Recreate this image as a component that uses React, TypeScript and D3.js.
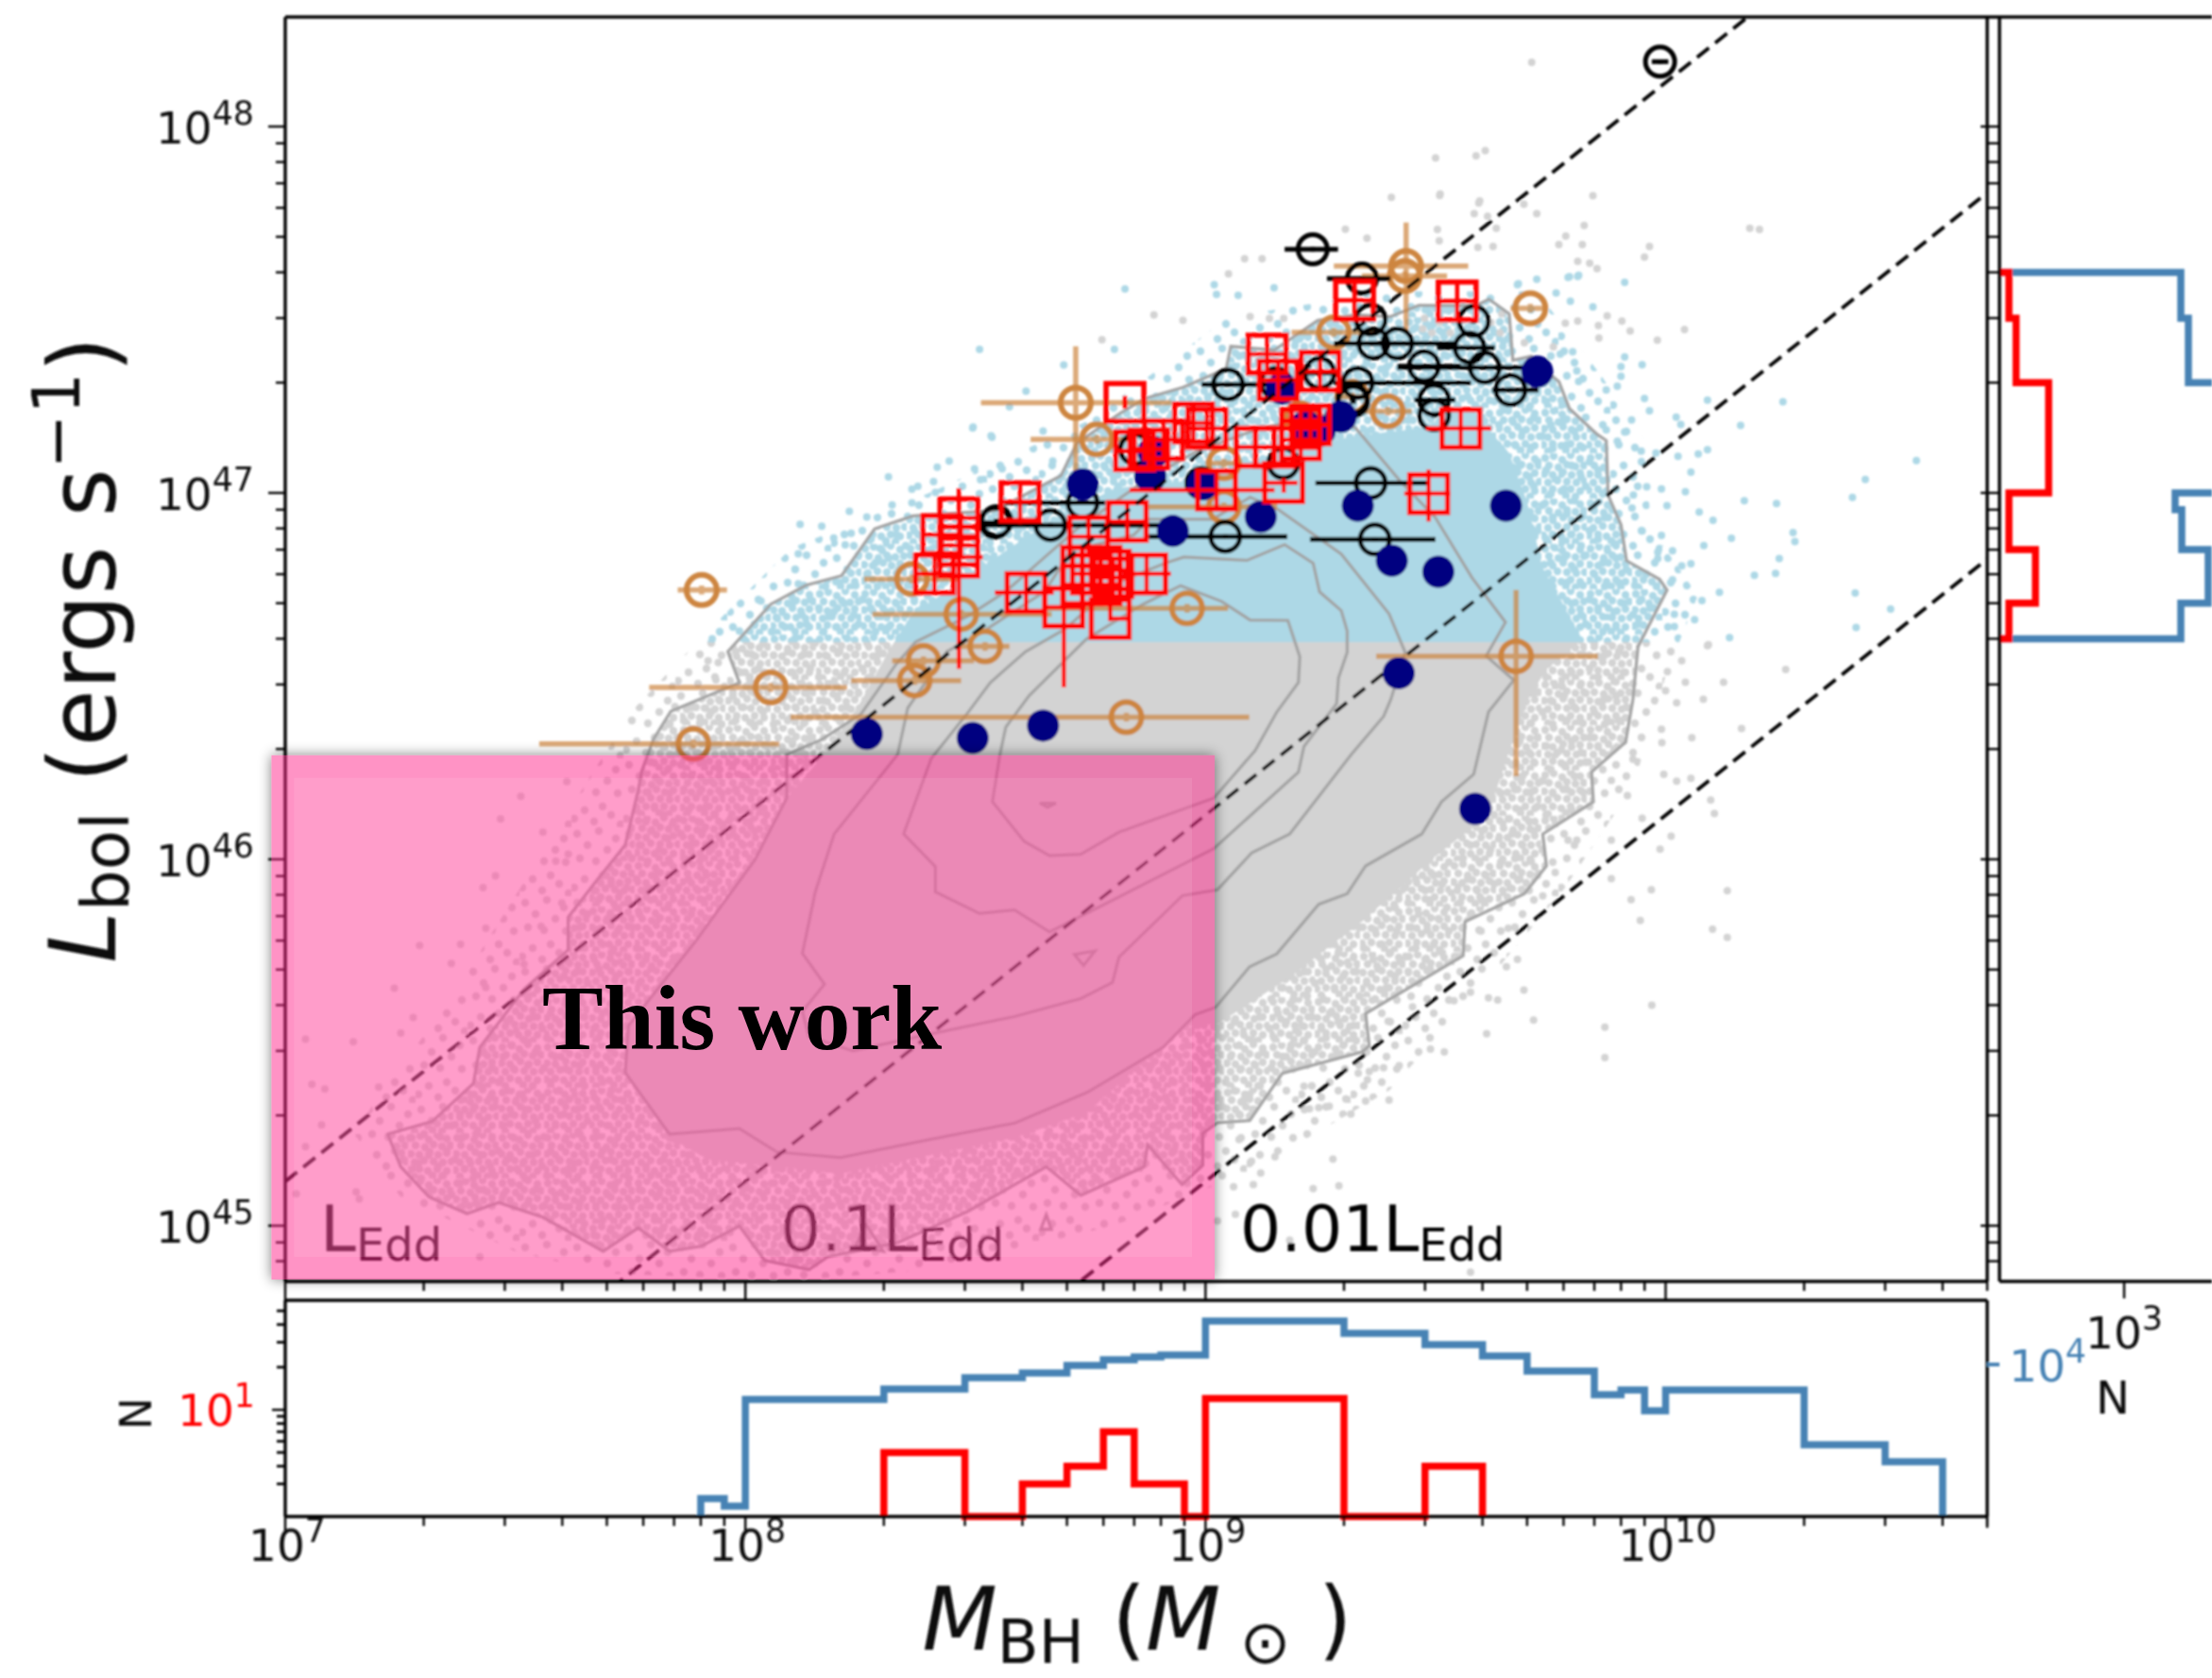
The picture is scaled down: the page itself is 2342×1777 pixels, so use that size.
import React from "react";
import * as d3 from "d3";

type P = number[];

// ---------- Bin edges and histogram counts ----------
const massEdgesBlue = [8e7, 9e7, 1e8, 2e8, 3e8, 4e8, 5e8, 6e8, 7e8, 8e8, 1e9, 2e9, 3e9, 4e9, 5e9, 7e9, 8e9, 9e9, 1e10, 2e10, 3e10, 4e10];
const massCountsBlue = [1130, 1000, 5670, 6710, 8070, 8710, 9850, 10800, 11300, 11660, 20250, 16600, 13800, 11480, 8980, 6120, 6610, 4710, 6610, 2710, 2060];
const massEdgesRed = [2e8, 3e8, 4e8, 5e8, 6e8, 7e8, 9e8, 1e9, 2e9, 3e9, 4e9];
const massCountsRed = [5, 1, 3, 4, 7, 3, 1, 12, 1, 4];
const lumEdgesBlue = [4e47, 3e47, 2e47, 1e47, 9e46, 7e46, 5e46, 4e46];
const lumCountsBlue = [2512, 2840, 6020, 2290, 2550, 3920, 2512];
const lumEdgesRed = [4e47, 3e47, 2e47, 1e47, 7e46, 5e46, 4e46];
const lumCountsRed = [2, 3, 19, 2, 9, 2];

// ---------- Sample points, [log M, log L, ...] ----------
const navyPoints: P[] = [[8.494,46.331],[8.647,46.365],[9.586,46.138],[9.506,46.785],[9.405,46.815],[9.653,46.965],[9.331,46.965],[8.929,46.896],[9.12,46.935],[8.994,47.023],[8.733,47.023],[8.88,47.046],[8.887,47.112],[9.721,47.331],[9.294,47.208],[9.248,47.169],[9.166,47.285],[9.218,47.181]];
const navyOnLine: P[] = [[8.264,46.342],[9.42,46.508]];

// [log M, log L, xlo, xhi, ylo, yhi]
const tanPoints: P[] = [
  [7.905,46.735,7.853,7.96],[7.887,46.315,7.552,8.074],[8.055,46.469,7.791,8.221],[8.368,46.488,8.23,8.469],
  [8.387,46.542,8.319,8.497],[8.362,46.765,8.258,8.466],[8.469,46.669,8.276,8.666],[8.521,46.581,8.466,8.574],
  [8.828,46.388,8.098,9.095],[8.96,46.685,8.65,9.049],[8.718,47.246,8.512,8.926,47.015,47.4],[8.764,47.146,8.62,8.834],
  [9.04,47.081,9.0,9.08],[9.04,46.962,8.877,9.156],[9.675,46.554,9.371,9.853,46.227,46.735],[9.706,47.504,9.663,9.739],
  [9.396,47.223,9.34,9.448],[9.436,47.619,9.279,9.571,47.438,47.738],[9.433,47.592,9.34,9.525],[9.279,47.438,9.187,9.371],
  [9.319,47.262,9.28,9.36],[9.206,47.204,9.17,9.24],
];
const blackPoints: P[] = [
  [9.988,48.177,9.97,10.006],[9.233,47.665,9.172,9.288],[9.34,47.585,9.264,9.402],[9.359,47.473],[9.583,47.469],
  [9.574,47.396,9.503,9.629],[9.475,47.346,9.417,9.555],[9.365,47.408,9.279,9.448],[9.417,47.408,9.355,9.54],
  [9.607,47.342,9.417,9.693],[9.663,47.281,9.623,9.724],[9.497,47.254,9.454,9.543],[9.497,47.212],[9.319,47.258],[9.321,47.25],
  [9.049,47.296,8.991,9.141],[9.331,47.3,9.279,9.577],[9.248,47.327,9.2,9.29],[9.153,47.3],[9.359,47.027,9.239,9.482],
  [9.368,46.873,9.227,9.5],[9.043,46.881,8.877,9.178],[9.169,47.081],[8.847,47.119],[8.991,47.027],
  [8.733,46.973,8.564,8.782],[8.663,46.912,8.521,8.899],[8.543,46.919,8.51,8.59],[8.546,46.923],
];
const redPoints: P[] = [
  [9.324,47.526],[9.547,47.524],[9.134,47.379],[9.158,47.308],[9.249,47.332],[8.825,47.247,8.82,8.83,47.23,47.265],
  [9.555,47.176,9.479,9.621],[8.974,47.191],[9.003,47.176],[8.909,47.145],[8.846,47.115],[8.877,47.12],[9.207,47.176],
  [9.228,47.186],[9.108,47.125],[9.15,47.125],[9.207,47.145],[9.485,46.998,9.432,9.532,46.922,47.064],[8.597,46.976,8.55,8.64,46.916,47.033],
  [8.464,46.932,8.42,8.51,46.52,47.013],[8.427,46.886],[8.464,46.856],[8.464,46.825,8.416,8.516],[8.411,46.779],
  [8.61,46.728,8.542,8.67],[8.692,46.688,8.65,8.74,46.469,46.81],[8.746,46.881],[8.83,46.922],[8.731,46.8],[8.752,46.779],
  [8.773,46.8],[8.793,46.789],[8.731,46.749],[8.773,46.749],[8.799,46.769],[8.872,46.779,8.82,8.925],[8.793,46.657,8.79,8.83,46.65,46.7],
  [9.024,47.008,8.835,9.15],[9.17,47.028,9.13,9.2,47.0,47.04],
];

// ---------- Sparse parent-sample points ----------
const blueSparse: P[] = [[9.911,47.575],[9.791,47.59],[9.811,47.594],[9.72,47.583],[9.68,47.571],[9.762,47.546],[9.793,47.523],[9.842,47.508],[9.771,47.379],[9.798,47.385],[9.911,47.371],[9.903,47.345],[9.949,47.35],[9.903,47.318],[9.807,47.333],[9.811,47.304],[9.871,47.281],[9.895,47.291],[9.954,47.258],[10.091,47.253],[10.255,47.249],[9.965,47.224],[10.023,47.207],[10.033,47.187],[10.163,47.184],[9.871,47.172],[9.911,47.166],[9.926,47.199],[9.895,47.141],[9.947,47.114],[9.979,47.109],[10.027,47.1],[10.071,47.106],[10.091,47.118],[10.545,47.088],[10.434,47.037],[10.406,46.988],[10.055,47.057],[9.959,47.017],[9.991,47.011],[10.043,47.003],[9.93,46.994],[9.927,46.959],[10.003,46.965],[10.073,46.948],[10.103,46.925],[10.171,46.979],[10.241,46.971],[10.143,46.876],[10.277,46.892],[10.281,46.867],[9.949,46.896],[9.991,46.884],[10.083,46.856],[10.015,46.842],[9.983,46.838],[9.983,46.821],[10.247,46.821],[10.035,46.801],[10.055,46.807],[10.193,46.775],[10.239,46.78],[10.015,46.763],[10.117,46.729],[10.412,46.727],[10.079,46.706],[10.489,46.683],[10.063,46.654],[10.019,46.669],[10.019,46.635],[10.414,46.633],[10.139,46.605],
  [7.928,46.602],[8.034,46.705],[7.987,46.623],[8.119,46.914],[8.166,46.909],[8.115,46.834],[8.108,46.791],[8.115,46.752],[8.192,46.877],[8.23,46.89],[8.217,46.858],[8.226,46.95],[8.264,46.934],[8.311,47.044],[8.319,46.967],[8.362,47.01],[8.375,47.018],[8.409,47.031],[8.417,47.07],[8.443,47.087],[8.362,46.973],[8.413,47.001],[8.498,47.066],[8.558,47.066],[8.511,47.036],[8.494,47.177],[8.536,47.152],[8.647,47.169],[8.668,47.087],
  [8.825,47.557],[9.019,47.568],[9.024,47.542],[9.071,47.539],[9.149,47.56],[8.509,47.392],[8.802,47.392],[8.692,47.349],[8.61,47.278],[8.574,47.235],[8.495,47.18],[8.534,47.156],[9.678,47.568],[9.788,47.588],[9.809,47.591]];
const graySparse: P[] = [[9.709,48.175],[9.5,47.914],[9.588,47.92],[9.608,47.934],[9.51,47.816],[9.596,47.797],[9.842,47.811],[9.692,47.788],[9.584,47.762],[9.613,47.755],[9.72,47.762],[9.823,47.73],[10.183,47.722],[10.204,47.719],[9.504,47.719],[9.632,47.722],[9.783,47.701],[9.508,47.688],[9.768,47.678],[9.819,47.678],[9.592,47.67],[9.625,47.673],[9.965,47.673],[9.954,47.644],[9.809,47.632],[9.835,47.627],[9.851,47.612],[9.873,47.483],[9.782,47.463],[9.809,47.469],[9.854,47.457],[9.905,47.469],[9.923,47.442],[10.041,47.446],[9.982,47.417],[9.855,47.423],[9.756,47.399],[9.693,47.41],[10.091,46.583],[10.261,46.518],
  [9.404,47.807],[9.509,47.812],[9.351,47.695],[9.304,47.72],[9.594,47.791],[9.085,47.639],[9.123,47.639],[9.05,47.598],[8.888,47.486],[8.951,47.471],[8.775,47.418],[9.097,47.481],[9.139,47.476],[9.17,47.476],
  [10.093,46.586],[10.035,46.542],[10.004,46.512],[10.126,46.483],[10.0,46.46],[10.043,46.483],[10.082,46.437],[10.024,46.427],[9.991,46.355],[10.165,46.357],[10.057,46.332],[9.992,46.318],[9.929,46.273],[9.996,46.232],[10.024,46.213],[10.055,46.221],[9.882,46.215],[9.917,46.174],[10.098,46.162],[10.106,46.125],[9.949,46.112],[10.012,46.063],[9.882,46.052],[9.988,46.028],[9.788,46.052],[9.807,46.052],[9.76,45.964],[9.882,45.947],[9.969,45.917],[10.134,45.914],[9.925,45.89],[9.945,45.833],[10.102,45.809],[10.134,45.787],[9.733,45.9],[9.658,45.812],[9.599,45.804],[9.654,45.707],[9.678,45.727],[9.576,45.637],[9.692,45.643],[9.615,45.622],[9.635,45.616],[9.54,45.614],[9.97,45.602],[9.45,45.597],[9.713,45.561],[9.397,45.558],[9.868,45.542],[9.611,45.524],[9.489,45.482],[9.519,45.474],[9.868,45.459],[9.421,45.437],[9.387,45.431],[9.356,45.421],[9.332,45.416],[9.352,45.398],[9.399,45.343],[9.305,45.346],[9.348,45.34],[9.316,45.305],[9.214,45.381],[9.269,45.326],[9.246,45.322],[9.226,45.319],[9.073,45.235],[9.151,45.188],[9.277,45.182],[9.1,45.176],[9.12,45.144],[9.061,45.106],[9.104,45.112],[9.234,45.101],[9.29,45.109],[9.065,45.031],[9.576,44.873],[9.183,44.961],[9.026,45.013],
  [7.612,46.212],[7.512,46.172],[7.468,46.11],[7.56,46.074],[7.615,46.014],[7.588,45.995],[7.457,45.955],[7.43,45.923],[7.601,45.881],[7.556,45.817],[7.436,45.812],[7.292,45.765],[7.381,45.768],[7.361,45.716],[7.519,45.714],[7.237,45.648],[7.436,45.65],[7.278,45.568],[7.251,45.526],[7.044,45.509],[7.148,45.502],[7.058,45.386],[7.086,45.373],[7.203,45.378],[7.079,45.275],[7.044,45.216],[7.154,45.092],[7.161,45.073],[7.024,45.087],[7.423,44.915],
  [7.919,46.542],[7.941,46.537],[7.936,46.49],[8.009,46.494],[7.847,46.417],[7.911,46.413],
  [9.476,47.477],[9.508,47.465],[9.532,47.437],[9.62,47.465],[9.644,47.489],[9.64,47.437],[9.492,47.437],[9.472,47.448]];

// ---------- Density contours (log M, log L) ----------
const contourOuter: P[] = [[7.775,46.241],[7.767,46.187],[7.739,46.039],[7.67,45.931],[7.615,45.842],[7.615,45.753],[7.519,45.645],[7.423,45.487],[7.409,45.388],[7.32,45.285],[7.223,45.25],[7.251,45.161],[7.313,45.078],[7.395,45.033],[7.464,45.063],[7.56,45.023],[7.691,44.93],[7.767,44.994],[7.835,44.93],[7.904,44.944],[7.987,44.999],[8.042,44.905],[8.138,44.88],[8.179,44.915],[8.331,44.954],[8.482,45.038],[8.654,45.161],[8.729,45.083],[8.867,45.161],[8.874,45.221],[8.949,45.112],[8.994,45.165],[8.994,45.252],[9.026,45.281],[9.096,45.287],[9.167,45.416],[9.34,45.474],[9.356,45.491],[9.348,45.579],[9.56,45.737],[9.564,45.83],[9.693,45.906],[9.741,45.982],[9.733,46.069],[9.843,46.157],[9.839,46.238],[9.913,46.32],[9.929,46.437],[9.94,46.58],[10.003,46.735],[9.987,46.764],[9.915,46.815],[9.903,46.913],[9.875,46.994],[9.871,47.143],[9.851,47.16],[9.791,47.23],[9.768,47.304],[9.756,47.316],[9.708,47.373],[9.668,47.362],[9.66,47.489],[9.616,47.529],[9.588,47.511],[9.464,47.512],[9.401,47.481],[9.327,47.486],[9.244,47.471],[9.15,47.39],[9.055,47.4],[9.045,47.339],[8.951,47.288],[8.867,47.257],[8.814,47.217],[8.72,47.135],[8.686,47.047],[8.542,46.952],[8.364,46.937],[8.281,46.902],[8.209,46.774],[8.132,46.748],[8.055,46.696],[7.962,46.567],[7.987,46.482],[7.838,46.404],[7.8,46.327]];
const contourTwo: P[] = [[7.835,45.25],[7.739,45.418],[7.746,45.546],[7.89,45.773],[8.021,45.999],[8.09,46.167],[8.09,46.286],[8.166,46.327],[8.251,46.396],[8.328,46.533],[8.37,46.593],[8.481,46.662],[8.566,46.731],[8.651,46.825],[8.719,46.9],[8.856,47.023],[8.982,47.115],[9.118,47.176],[9.275,47.217],[9.327,47.176],[9.422,47.034],[9.5,46.932],[9.579,46.769],[9.652,46.647],[9.61,46.555],[9.67,46.489],[9.615,46.402],[9.583,46.232],[9.513,46.157],[9.47,46.069],[9.348,45.982],[9.308,45.906],[9.246,45.877],[9.155,45.742],[9.096,45.707],[9.022,45.596],[8.977,45.576],[8.908,45.487],[8.743,45.364],[8.585,45.28],[8.399,45.235],[8.207,45.186],[8.069,45.201],[7.987,45.265]];
const contourThree: P[] = [[8.124,45.585],[8.172,45.659],[8.124,45.743],[8.152,45.911],[8.193,46.069],[8.331,46.286],[8.353,46.413],[8.438,46.567],[8.524,46.628],[8.651,46.731],[8.707,46.842],[8.844,46.885],[8.878,46.928],[9.015,46.928],[9.097,46.988],[9.159,46.954],[9.295,46.833],[9.399,46.67],[9.434,46.565],[9.403,46.437],[9.387,46.39],[9.316,46.285],[9.183,46.069],[9.1,46.017],[9.026,45.917],[8.95,45.901],[8.812,45.733],[8.798,45.664],[8.729,45.62],[8.585,45.571],[8.413,45.526],[8.234,45.477],[8.138,45.516]];
const contourFour: P[] = [[8.344,46.069],[8.413,45.98],[8.413,45.911],[8.509,45.852],[8.585,45.862],[8.661,45.802],[8.771,45.871],[9.018,46.029],[9.202,46.238],[9.214,46.308],[9.285,46.425],[9.289,46.495],[9.308,46.565],[9.308,46.623],[9.295,46.679],[9.248,46.73],[9.234,46.808],[9.172,46.859],[9.09,46.816],[8.953,46.825],[8.912,46.808],[8.809,46.756],[8.694,46.628],[8.609,46.567],[8.532,46.482],[8.481,46.396],[8.404,46.275]];
const contourFive: P[] = [[8.537,46.157],[8.606,46.049],[8.661,46.01],[8.729,46.014],[8.812,46.074],[9.018,46.167],[9.108,46.297],[9.155,46.402],[9.202,46.483],[9.205,46.553],[9.179,46.652],[9.097,46.653],[9.035,46.704],[8.946,46.747],[8.864,46.696],[8.741,46.601],[8.617,46.447],[8.566,46.361],[8.553,46.284]];
const contourIslands: P[][] = [
  [[8.715,45.74],[8.76,45.75],[8.735,45.71]],
  [[8.64,46.153],[8.675,46.153],[8.657,46.142]],
  [[8.654,45.03],[8.642,44.99],[8.665,44.99]],
  [[8.262,45.004],[8.3,44.93],[8.24,44.945]],
];
const denseCore: P[] = [[7.835,45.24],[7.739,45.418],[7.746,45.546],[7.89,45.773],[8.021,45.999],[8.09,46.167],[8.175,46.293],[8.243,46.413],[8.311,46.567],[8.362,46.67],[8.447,46.739],[8.566,46.842],[8.668,46.928],[8.804,47.013],[8.961,47.033],[9.17,47.115],[9.327,47.156],[9.464,47.176],[9.58,47.235],[9.604,47.189],[9.66,47.109],[9.7,46.971],[9.732,46.798],[9.819,46.6],[9.741,46.518],[9.701,46.437],[9.654,46.273],[9.615,46.122],[9.497,46.005],[9.34,45.83],[9.183,45.678],[9.026,45.55],[8.955,45.546],[8.743,45.309],[8.585,45.24],[8.207,45.142],[7.918,45.181]];
const speckleFringe: P[] = [[7.15,45.25],[7.25,45.08],[7.5,44.93],[7.7,44.87],[8.1,44.85],[8.4,44.88],[8.8,45.0],[9.1,45.15],[9.4,45.37],[9.62,45.68],[9.78,45.92],[9.93,46.2],[10.0,46.5],[10.07,46.72],[9.97,46.9],[9.95,47.15],[9.86,47.32],[9.72,47.55],[9.4,47.55],[9.05,47.48],[8.75,47.2],[8.4,47.0],[8.1,46.85],[7.9,46.6],[7.75,46.4],[7.55,46.0],[7.35,45.6],[7.2,45.35]];

const speckleTileA = [[4,5],[13,3],[22,7],[31,2],[41,6],[8,13],[18,15],[27,12],[36,14],[45,13],[3,22],[12,23],[23,20],[32,23],[41,21],[7,31],[17,29],[27,30],[37,31],[46,30],[2,39],[12,38],[21,40],[31,38],[41,40],[7,46],[26,45],[36,46]];
const speckleTileB = [[6,7],[29,4],[47,12],[17,19],[38,24],[9,33],[26,36],[49,37],[33,51],[14,55],[42,60],[3,64],[24,67],[52,70]];

const eddingtonRatios = [1, 0.1, 0.01];
const lumLogCut = 46.593;
const xDecades = [7, 8, 9, 10];
const yDecades = [45, 46, 47, 48];
const redYTicks = [3, 4, 5, 6, 7, 8, 9, 20, 30, 40, 50];
const C_BLUE = "#add8e6", C_GRAY = "#d3d3d3", C_STEEL = "#4682b4", C_CONTOUR = "#a3a3a3";
const FONT = "'DejaVu Sans', sans-serif";

// ---------- Scales ----------
const xS = d3.scaleLog().domain([1e7, 1e10]).range([302, 1763.5]);
const yS = d3.scaleLog().domain([1e45, 1e48]).range([1298, 134]);
const yRed = d3.scaleLog().domain([10, 100]).range([1493, 1343]);
const yBlue = d3.scaleLog().domain([1e4, 1e5]).range([1445, 1295]);
const xRed = d3.scaleLog().domain([2, 20]).range([2127, 2170]);
const xBlue = d3.scaleLog().domain([1e3, 1e4]).range([2249, 2399]);

const LEFT = 302, RIGHT = 2104, TOP = 18, MAIN_BOTTOM = 1357, SIDE_LEFT = 2117, PANEL_TOP = 1377, PANEL_BOTTOM = 1606;
const px = (p: P) => [xS(10 ** p[0]), yS(10 ** p[1])];
const closed = d3.line().curve(d3.curveLinearClosed);
const open = d3.line();
const polygon = (pts: P[]) => closed(pts.map(px) as any) as string;

function massHist(edges: number[], counts: number[], y: (v: number) => number) {
  const pts: [number, number][] = [[xS(edges[0]), PANEL_BOTTOM]];
  counts.forEach((c, i) => {
    const yy = Math.min(y(c), PANEL_BOTTOM);
    pts.push([xS(edges[i]), yy], [xS(edges[i + 1]), yy]);
  });
  pts.push([xS(edges[edges.length - 1]), PANEL_BOTTOM]);
  return open(pts) as string;
}
function lumHist(edges: number[], counts: number[], x: (v: number) => number) {
  const pts: [number, number][] = [[SIDE_LEFT, yS(edges[0])]];
  counts.forEach((c, i) => {
    pts.push([x(c), yS(edges[i])], [x(c), yS(edges[i + 1])]);
  });
  pts.push([SIDE_LEFT, yS(edges[edges.length - 1])]);
  return open(pts) as string;
}

function Pow({ x, y, exp, anchor = "middle", size = 47, fill = "#111" }: any) {
  return (
    <text x={x} y={y} textAnchor={anchor} fontFamily={FONT} fontSize={size} fill={fill}>
      10<tspan dy={-size * 0.43} fontSize={size * 0.74}>{exp}</tspan>
    </text>
  );
}
function EddLabel({ x, label }: any) {
  return (
    <text x={x} y={1325} fontFamily={FONT} fontSize={68} fill="#000">
      {label}<tspan dy={10} fontSize={48}>Edd</tspan>
    </text>
  );
}
const Dots = ({ pts, fill }: any) => <g fill={fill}>{pts.map((p: P, i: number) => { const [x, y] = px(p); return <circle key={i} cx={x} cy={y} r={4} />; })}</g>;
function ErrBars({ p, dx, dy, color, width, opacity = 1 }: any) {
  const xlo = p[2] ?? p[0] - dx, xhi = p[3] ?? p[0] + dx, ylo = p[4] ?? p[1] - dy, yhi = p[5] ?? p[1] + dy;
  return (
    <g stroke={color} strokeWidth={width} opacity={opacity}>
      <line x1={xS(10 ** xlo)} x2={xS(10 ** xhi)} y1={yS(10 ** p[1])} y2={yS(10 ** p[1])} />
      <line x1={xS(10 ** p[0])} x2={xS(10 ** p[0])} y1={yS(10 ** ylo)} y2={yS(10 ** yhi)} />
    </g>
  );
}
const Navy = ({ pts }: any) => <g fill="#000080">{pts.map((p: P, i: number) => { const [x, y] = px(p); return <circle key={i} cx={x} cy={y} r={17} />; })}</g>;
const Tile = ({ id, w, h, tile, fill }: any) => (
  <pattern id={id} width={w} height={h} patternUnits="userSpaceOnUse">
    {tile.map((t: number[], i: number) => <circle key={i} cx={t[0]} cy={t[1]} r={4.2} fill={fill} />)}
  </pattern>
);

export default function App() {
  const cutY = yS(10 ** lumLogCut);
  const pink = { x: xS(10 ** 6.97), x2: xS(10 ** 9.02), y: yS(10 ** 46.284), y2: yS(10 ** 44.853) };
  const minorX: number[] = [];
  xDecades.forEach((d) => [2, 3, 4, 5, 6, 7, 8, 9].forEach((k) => { if (k * 10 ** d <= 5e10) minorX.push(k * 10 ** d); }));
  const minorY: number[] = [];
  [44, 45, 46, 47, 48].forEach((d) => [2, 3, 4, 5, 6, 7, 8, 9].forEach((k) => { const v = k * 10 ** d; if (yS(v) < MAIN_BOTTOM && yS(v) > TOP) minorY.push(v); }));
  const contours = [contourOuter, contourTwo, contourThree, contourFour, contourFive, ...contourIslands];
  const zone = (fringe: string, a: string, b: string, solid: string) => (
    <>
      <path d={polygon(speckleFringe)} fill={fringe} />
      <path d={polygon(contourOuter)} fill={a} />
      <path d={polygon(contourOuter)} fill={b} />
      <path d={polygon(denseCore)} fill={solid} />
    </>
  );
  return (
    <svg width={2342} height={1777} viewBox="0 0 2342 1777" style={{ position: "absolute", left: 0, top: 0, background: "#fff" }}>
      <defs>
        <filter id="soft" x="-2%" y="-2%" width="104%" height="104%"><feGaussianBlur stdDeviation="1" /></filter>
        <filter id="shadow" x="-10%" y="-10%" width="120%" height="120%"><feGaussianBlur stdDeviation="7" /></filter>
        <Tile id="spGrayA" w={48} h={48} tile={speckleTileA} fill={C_GRAY} />
        <Tile id="spGrayB" w={55} h={73} tile={speckleTileB} fill={C_GRAY} />
        <Tile id="spBlueA" w={48} h={48} tile={speckleTileA} fill={C_BLUE} />
        <Tile id="spBlueB" w={55} h={73} tile={speckleTileB} fill={C_BLUE} />
        <clipPath id="mainClip"><rect x={LEFT} y={TOP} width={RIGHT - LEFT} height={MAIN_BOTTOM - TOP} /></clipPath>
        <clipPath id="upper"><rect x={LEFT} y={TOP} width={RIGHT - LEFT} height={cutY - TOP} /></clipPath>
        <clipPath id="lower"><rect x={LEFT} y={cutY} width={RIGHT - LEFT} height={MAIN_BOTTOM - cutY} /></clipPath>
        <clipPath id="panelClip"><rect x={LEFT} y={PANEL_TOP} width={RIGHT - LEFT} height={PANEL_BOTTOM - PANEL_TOP + 4} /></clipPath>
        <clipPath id="sideClip"><rect x={SIDE_LEFT} y={TOP} width={2342 - SIDE_LEFT} height={MAIN_BOTTOM - TOP} /></clipPath>
        <clipPath id="pinkOutside"><path clipRule="evenodd" d={`M0 0H2342V1777H0Z M${pink.x} ${pink.y}H${pink.x2}V${pink.y2}H${pink.x}Z`} /></clipPath>
      </defs>

      <g filter="url(#soft)">
        <g clipPath="url(#mainClip)">
          <g clipPath="url(#lower)">{zone("url(#spGrayB)", "url(#spGrayA)", "url(#spGrayB)", C_GRAY)}</g>
          <g clipPath="url(#upper)">{zone("url(#spBlueB)", "url(#spBlueA)", "url(#spBlueB)", C_BLUE)}</g>
          <Dots pts={graySparse} fill={C_GRAY} />
          <Dots pts={blueSparse} fill={C_BLUE} />
          <g fill="none" stroke={C_CONTOUR} strokeWidth={3.2}>
            {contours.map((c, i) => <path key={i} d={polygon(c)} />)}
          </g>
          {tanPoints.map((p, i) => <ErrBars key={i} p={p} dx={0.01} dy={0.012} color="#cd853f" width={5.5} opacity={0.7} />)}
          <g fill="none" stroke="#cd853f" strokeWidth={6}>
            {tanPoints.map((p, i) => { const [x, y] = px(p); return <circle key={i} cx={x} cy={y} r={16} />; })}
          </g>
          {blackPoints.map((p, i) => <ErrBars key={i} p={p} dx={0.006} dy={0.006} color="#000" width={5} />)}
          <g fill="none" stroke="#000" strokeWidth={5}>
            {blackPoints.map((p, i) => { const [x, y] = px(p); return <circle key={i} cx={x} cy={y} r={15.5} />; })}
          </g>
          <Navy pts={navyPoints} />
          {redPoints.map((p, i) => <ErrBars key={i} p={p} dx={0.04} dy={0.05} color="#f00" width={4.5} />)}
          <g fill="none" stroke="#f00" strokeWidth={5.5}>
            {redPoints.map((p, i) => { const [x, y] = px(p); return <rect key={i} x={x - 20} y={y - 20} width={40} height={40} />; })}
          </g>
          {eddingtonRatios.map((r) => (
            <line key={r} x1={xS(1e7)} x2={xS(5e10)} y1={yS(1.32e38 * 1e7 * r)} y2={yS(1.32e38 * 5e10 * r)} stroke="#000" strokeWidth={3.8} strokeDasharray="16 8.5" />
          ))}
          <Navy pts={navyOnLine} />
          <EddLabel x={339} label="L" />
          <EddLabel x={826} label="0.1L" />
          <EddLabel x={1313} label="0.01L" />
        </g>

        {/* side histogram */}
        <g clipPath="url(#sideClip)" fill="none" strokeWidth={7.5}>
          <path d={lumHist(lumEdgesBlue, lumCountsBlue, xBlue)} stroke={C_STEEL} />
          <path d={lumHist(lumEdgesRed, lumCountsRed, xRed)} stroke="#f00" />
        </g>
        {/* bottom histogram */}
        <g clipPath="url(#panelClip)" fill="none" strokeWidth={7.5}>
          <path d={massHist(massEdgesBlue, massCountsBlue, yBlue)} stroke={C_STEEL} />
          <path d={massHist(massEdgesRed, massCountsRed, (v) => (v <= 1 ? PANEL_BOTTOM : yRed(v)))} stroke="#f00" />
        </g>

        {/* frames */}
        <g stroke="#000" strokeWidth={3.4}>
          <line x1={LEFT} x2={2342} y1={TOP} y2={TOP} />
          <line x1={LEFT} x2={RIGHT} y1={MAIN_BOTTOM} y2={MAIN_BOTTOM} />
          <line x1={SIDE_LEFT} x2={2342} y1={MAIN_BOTTOM} y2={MAIN_BOTTOM} />
          <line x1={LEFT} x2={LEFT} y1={TOP} y2={MAIN_BOTTOM} />
          <line x1={RIGHT} x2={RIGHT} y1={TOP} y2={MAIN_BOTTOM} />
          <line x1={SIDE_LEFT} x2={SIDE_LEFT} y1={TOP} y2={MAIN_BOTTOM} />
          <line x1={LEFT} x2={RIGHT} y1={PANEL_TOP} y2={PANEL_TOP} />
          <line x1={LEFT} x2={RIGHT} y1={PANEL_BOTTOM} y2={PANEL_BOTTOM} />
          <line x1={LEFT} x2={LEFT} y1={PANEL_TOP} y2={PANEL_BOTTOM} />
          <line x1={RIGHT} x2={RIGHT} y1={PANEL_TOP} y2={PANEL_BOTTOM} />
        </g>
        {/* ticks */}
        <g stroke="#000" strokeWidth={2.4}>
          {yDecades.map((d) => {
            const y = yS(10 ** d);
            return (
              <g key={d}>
                <line x1={LEFT - 18} x2={LEFT} y1={y} y2={y} />
                <line x1={SIDE_LEFT - 20} x2={SIDE_LEFT} y1={y} y2={y} />
              </g>
            );
          })}
          {minorY.map((v) => (
            <g key={v}>
              <line x1={LEFT - 10} x2={LEFT} y1={yS(v)} y2={yS(v)} />
              <line x1={RIGHT} x2={SIDE_LEFT} y1={yS(v)} y2={yS(v)} />
            </g>
          ))}
          {xDecades.map((d) => (
            <g key={d}>
              <line x1={xS(10 ** d)} x2={xS(10 ** d)} y1={MAIN_BOTTOM} y2={PANEL_TOP} />
              <line x1={xS(10 ** d)} x2={xS(10 ** d)} y1={PANEL_BOTTOM} y2={PANEL_BOTTOM + 18} />
            </g>
          ))}
          {minorX.map((v) => (
            <g key={v}>
              <line x1={xS(v)} x2={xS(v)} y1={MAIN_BOTTOM} y2={MAIN_BOTTOM + 10} />
              <line x1={xS(v)} x2={xS(v)} y1={PANEL_BOTTOM} y2={PANEL_BOTTOM + 10} />
            </g>
          ))}
          <line x1={xBlue(1e3)} x2={xBlue(1e3)} y1={MAIN_BOTTOM} y2={MAIN_BOTTOM + 18} />
          <line x1={288} x2={LEFT} y1={yRed(10)} y2={yRed(10)} />
          {redYTicks.map((v) => <line key={v} x1={293} x2={LEFT} y1={yRed(v)} y2={yRed(v)} strokeWidth={2.8} />)}
          <line x1={RIGHT} x2={SIDE_LEFT} y1={yBlue(1e4)} y2={yBlue(1e4)} stroke={C_STEEL} strokeWidth={4} />
          <line x1={RIGHT} x2={RIGHT} y1={PANEL_BOTTOM} y2={PANEL_BOTTOM + 12} />
        </g>

        {/* labels */}
        {yDecades.map((d) => <Pow key={d} x={269} y={yS(10 ** d) + 18} exp={d} anchor="end" />)}
        {xDecades.map((d) => <Pow key={d} x={xS(10 ** d) + 2} y={1653} exp={d} />)}
        <Pow x={188} y={1510} exp={1} anchor="start" fill="#f00" />
        <Pow x={2127} y={1463} exp={4} anchor="start" fill={C_STEEL} />
        <Pow x={2208} y={1428} exp={3} anchor="start" />
        <text x={2237} y={1497} textAnchor="middle" fontFamily={FONT} fontSize={48} fill="#111">N</text>
        <text transform="translate(160,1497) rotate(-90)" textAnchor="middle" fontFamily={FONT} fontSize={46} fill="#111">N</text>
        <text transform="translate(122,688) rotate(-90)" textAnchor="middle" fontFamily={FONT} fontSize={98} fill="#111">
          <tspan fontStyle="italic">L</tspan><tspan fontSize={69} dy={14}>bol</tspan><tspan dy={-14}> (ergs s</tspan><tspan fontSize={69} dy={-38}>−1</tspan><tspan dy={38}>)</tspan>
        </text>
        <text x={1204} y={1747} textAnchor="middle" fontFamily={FONT} fontSize={92} fill="#111">
          <tspan fontStyle="italic">M</tspan><tspan fontSize={64} dy={14}>BH</tspan><tspan dy={-14}>  (</tspan><tspan fontStyle="italic">M</tspan><tspan fontSize={64} dy={14}> ⊙</tspan><tspan dy={-14}> )</tspan>
        </text>
      </g>

      {/* overlay */}
      <g clipPath="url(#pinkOutside)">
        <rect x={pink.x} y={pink.y} width={pink.x2 - pink.x} height={pink.y2 - pink.y} fill="#000" opacity={0.5} filter="url(#shadow)" />
      </g>
      <rect x={pink.x} y={pink.y} width={pink.x2 - pink.x} height={pink.y2 - pink.y} fill="rgb(255,40,140)" opacity={0.5} />
      <rect x={pink.x + 24} y={pink.y + 24} width={pink.x2 - pink.x - 48} height={pink.y2 - pink.y - 48} fill="#fff" opacity={0.1} />
      <text x={574} y={1111} fontFamily="'Liberation Serif', serif" fontWeight="bold" fontSize={97} fill="#000">This work</text>
    </svg>
  );
}
